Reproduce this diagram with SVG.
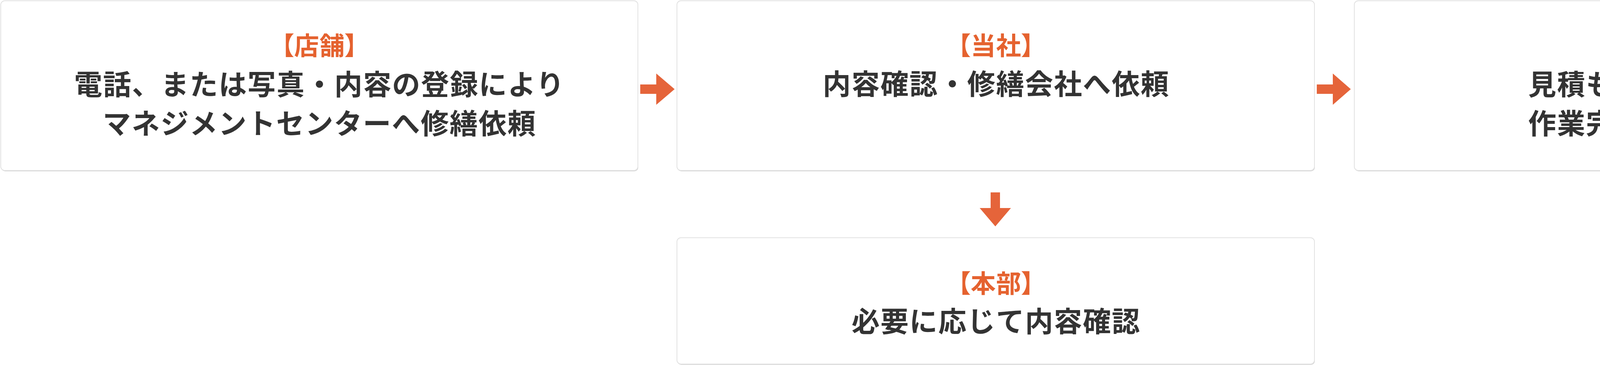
<svg xmlns="http://www.w3.org/2000/svg" width="5100" height="936" viewBox="0 0 5100 936">
<style>
.shadow{fill:#cdcdcd}
.box{fill:#ffffff;stroke:#e2e2e2;stroke-width:2}
.arrow{fill:#e5643a}
text{font-family:"Noto Sans CJK JP","Noto Sans",sans-serif;font-weight:700;text-anchor:middle}
.title{font-size:64px;fill:#e5622f;letter-spacing:1px;font-feature-settings:"palt"}
.main{font-size:72px;fill:#333333;letter-spacing:2px}
</style>
<rect width="5100" height="936" fill="#ffffff"/>
<g id="node-store">
<rect class="shadow" x="3" y="4" width="1631" height="434" rx="10"/>
<rect class="box" x="2" y="2" width="1631" height="434" rx="10"/>
<text class="title" x="818" y="140">【店舗】</text>
<text class="main" x="818" y="242">電話、または写真・内容の登録により</text>
<text class="main" x="818" y="342">マネジメントセンターへ修繕依頼</text>
</g>
<g id="node-company">
<rect class="shadow" x="1734" y="4" width="1632" height="434" rx="10"/>
<rect class="box" x="1733" y="2" width="1632" height="434" rx="10"/>
<text class="title" x="2550" y="140">【当社】</text>
<text class="main" x="2550" y="241">内容確認・修繕会社へ依頼</text>
</g>
<g id="node-repair">
<rect class="shadow" x="3468" y="4" width="1630" height="434" rx="10"/>
<rect class="box" x="3467" y="2" width="1630" height="434" rx="10"/>
<text class="title" x="4282" y="140">【修繕会社】</text>
<text class="main" x="4282" y="242">見積もりや作業予定・</text>
<text class="main" x="4282" y="342">作業完了報告書を登録</text>
</g>
<g id="node-hq">
<rect class="shadow" x="1734" y="610" width="1632" height="323" rx="10"/>
<rect class="box" x="1733" y="608" width="1632" height="323" rx="10"/>
<text class="title" x="2550" y="748">【本部】</text>
<text class="main" x="2550" y="848">必要に応じて内容確認</text>
</g>
<g id="connectors">
<polygon class="arrow" points="1639,216 1680,216 1680,188 1727,228 1680,268 1680,240 1639,240"/>
<polygon class="arrow" points="3371,216 3412,216 3412,188 3458,228 3412,268 3412,240 3371,240"/>
<polygon class="arrow" points="2536,492 2560,492 2560,532 2588,532 2548,579 2508,532 2536,532"/>
</g>
</svg>
